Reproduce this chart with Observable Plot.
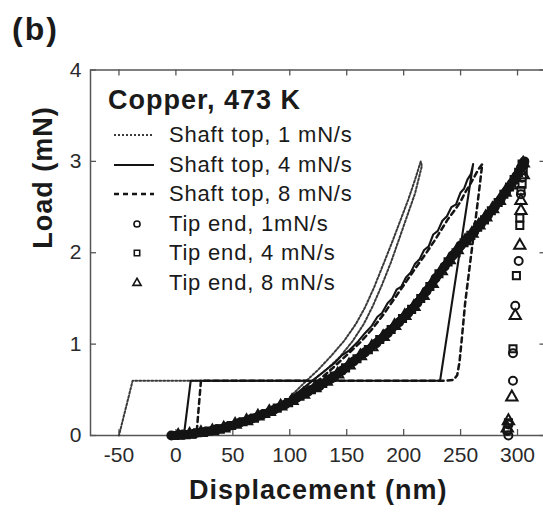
<!DOCTYPE html>
<html>
<head>
<meta charset="utf-8">
<script src="https://cdn.jsdelivr.net/npm/d3@7"></script>
<script src="https://cdn.jsdelivr.net/npm/@observablehq/plot@0.6"></script>
<style>
  html, body { margin: 0; padding: 0; background: #fff; overflow: hidden; }
  #wrap { position: relative; width: 543px; height: 512px; font-family: "Liberation Sans", Arial, Helvetica, sans-serif; color: #1a1a1a; }
  #tag { position: absolute; left: 12px; top: 12px; font-size: 32px; font-weight: bold; letter-spacing: 2px; line-height: 34px; }
  #chart { position: absolute; left: 0; top: 50px; }
  .lg { position: absolute; white-space: nowrap; line-height: 30px; height: 30px; }
  .lg-title { font-size: 27px; font-weight: bold; letter-spacing: 1px; }
  .lg-text { font-size: 22px; letter-spacing: 0.8px; }
  .lg svg { position: absolute; top: 0; }
</style>
</head>
<body>
<div id="wrap">
  <div id="tag">(b)</div>
  <div id="chart"></div>
</div>
<script>
// ---------- data ----------
const panelTag = "(b)";
const legendTitle = "Copper, 473 K";
const seriesLabels = ["Shaft top, 1 mN/s", "Shaft top, 4 mN/s", "Shaft top, 8 mN/s",
                      "Tip end, 1mN/s", "Tip end, 4 mN/s", "Tip end, 8 mN/s"];
const xTitle = "Displacement (nm)";
const yTitle = "Load (mN)";
const xTicks = [-50, 0, 50, 100, 150, 200, 250, 300];
const yTicks = [0, 1, 2, 3, 4];

// Shaft top, 1 mN/s (dotted)
const shaft1X = [100, 113, 125, 137, 148, 158, 166, 174, 183, 190, 197, 204, 210, 215,
                 216, 210, 203, 196, 189, 181, 173, 165, 155, 144, 132, 120, -38, -50];
const shaft1Y = [0.42, 0.58, 0.72, 0.88, 1.04, 1.22, 1.40, 1.62, 1.90, 2.12, 2.35, 2.58, 2.80, 3.00,
                 2.95, 2.65, 2.40, 2.15, 1.90, 1.65, 1.42, 1.22, 1.03, 0.86, 0.72, 0.60, 0.60, 0.00];
// Shaft top, 4 mN/s (solid)
const shaft4X = [100, 110, 120, 130, 140, 146, 152, 160, 166, 172, 177, 181, 186, 190, 194, 198, 202, 206, 210,
                 214, 218, 222, 226, 230, 234, 238, 242, 246, 250, 253, 256, 259, 261, 232, 13, 7];
const shaft4Y = [0.40, 0.50, 0.60, 0.70, 0.80, 0.88, 0.93, 1.03, 1.12, 1.20, 1.30, 1.34, 1.45, 1.50, 1.60, 1.63, 1.73, 1.78, 1.88,
                 1.93, 2.03, 2.07, 2.20, 2.24, 2.35, 2.40, 2.50, 2.53, 2.66, 2.70, 2.80, 2.86, 2.97, 0.60, 0.60, 0.00];
// Shaft top, 8 mN/s (dashed)
const shaft8X = [105, 115, 125, 137, 150, 162, 172, 182, 192, 202, 212, 220, 227, 233, 239, 245, 250, 254,
                 258, 262, 266, 269, 266, 262, 258, 254, 251, 249, 247, 244, 238, 22, 18];
const shaft8Y = [0.40, 0.50, 0.60, 0.73, 0.88, 1.02, 1.16, 1.32, 1.50, 1.68, 1.86, 2.00, 2.13, 2.25, 2.37, 2.47, 2.56, 2.66,
                 2.74, 2.83, 2.92, 2.97, 2.65, 2.25, 1.85, 1.45, 1.05, 0.80, 0.66, 0.61, 0.60, 0.60, 0.00];

// Tip end, 1 mN/s (circles): loading, then unloading
const tip1LoadX = [-4, 6, 16, 26, 36, 46, 56, 66, 76, 86, 96, 106, 116, 126, 136, 146, 156, 166, 176, 186, 196,
                   204, 212, 220, 228, 236, 243, 250, 256, 262, 268, 274, 280, 285, 290, 295, 299, 303, 306];
const tip1LoadY = [0.00, 0.01, 0.02, 0.04, 0.07, 0.10, 0.14, 0.18, 0.23, 0.28, 0.34, 0.41, 0.48, 0.54, 0.62, 0.71, 0.81, 0.91, 1.01, 1.12, 1.24,
                   1.34, 1.45, 1.58, 1.72, 1.85, 1.97, 2.08, 2.15, 2.23, 2.32, 2.41, 2.50, 2.58, 2.67, 2.76, 2.84, 2.93, 3.00];
const tip1UnloadX = [305, 304, 303, 301, 298, 296, 296, 292, 291, 292];
const tip1UnloadY = [2.95, 2.82, 2.64, 1.91, 1.42, 0.90, 0.60, 0.12, 0.05, 0.00];
// Tip end, 4 mN/s (squares)
const tip4LoadX = [-1, 9, 19, 29, 39, 49, 59, 69, 79, 89, 99, 109, 119, 129, 139, 149, 159, 169, 179, 189, 199,
                   207, 215, 223, 231, 239, 246, 253, 259, 265, 271, 277, 283, 288, 293, 297, 301, 304];
const tip4LoadY = [0.00, 0.01, 0.03, 0.05, 0.07, 0.11, 0.15, 0.19, 0.24, 0.30, 0.36, 0.43, 0.50, 0.57, 0.65, 0.74, 0.84, 0.94, 1.05, 1.16, 1.28,
                   1.38, 1.50, 1.63, 1.77, 1.90, 2.00, 2.11, 2.19, 2.28, 2.36, 2.46, 2.55, 2.64, 2.72, 2.80, 2.88, 2.97];
const tip4UnloadX = [305, 304, 303, 302, 302, 299, 296, 292, 291];
const tip4UnloadY = [2.90, 2.75, 2.68, 2.38, 2.30, 1.75, 0.95, 0.14, 0.06];
// Tip end, 8 mN/s (triangles)
const tip8LoadX = [2, 12, 22, 32, 42, 52, 62, 72, 82, 92, 102, 112, 122, 132, 142, 152, 162, 172, 182, 192, 201,
                   209, 217, 225, 233, 240, 247, 254, 260, 266, 272, 278, 284, 289, 294, 298, 302, 305];
const tip8LoadY = [0.00, 0.01, 0.03, 0.05, 0.08, 0.12, 0.16, 0.21, 0.26, 0.32, 0.38, 0.45, 0.52, 0.59, 0.67, 0.77, 0.87, 0.97, 1.08, 1.20, 1.31,
                   1.41, 1.53, 1.66, 1.80, 1.92, 2.03, 2.13, 2.21, 2.30, 2.39, 2.48, 2.57, 2.66, 2.74, 2.82, 2.90, 2.98];
const tip8UnloadX = [305, 303, 303, 302, 298, 295, 292, 291];
const tip8UnloadY = [2.85, 2.57, 2.46, 2.08, 1.31, 0.42, 0.16, 0.08];

// ---------- build ----------
const pts = (X, Y) => X.map((x, i) => ({x, y: Y[i]}));
const ink = "#141414";
const lineStyles = [
  {stroke: "#3a3a3a", strokeWidth: 2, strokeDasharray: "2,2"},
  {stroke: ink, strokeWidth: 2.1, strokeDasharray: null},
  {stroke: ink, strokeWidth: 2.5, strokeDasharray: "5,4"}
];
const symbols = ["circle", "square", "triangle"];
const tipLoad = [pts(tip1LoadX, tip1LoadY), pts(tip4LoadX, tip4LoadY), pts(tip8LoadX, tip8LoadY)];
const tipAll = [pts(tip1LoadX.concat(tip1UnloadX), tip1LoadY.concat(tip1UnloadY)),
                pts(tip4LoadX.concat(tip4UnloadX), tip4LoadY.concat(tip4UnloadY)),
                pts(tip8LoadX.concat(tip8UnloadX), tip8LoadY.concat(tip8UnloadY))];

const W = 543, H = 462, mT = 19.5, mB = 77, mL = 90, mR = -2.5, tickLen = 6;
const fmt = d => String(d);

const chart = Plot.plot({
  width: W,
  height: H,
  marginTop: mT,
  marginBottom: mB,
  marginLeft: mL,
  marginRight: mR,
  x: {domain: [-75, 325]},
  y: {domain: [0, 4]},
  style: {fontFamily: "'Liberation Sans', Arial, Helvetica, sans-serif", color: "#222", background: "#fff"},
  marks: [
    Plot.frame({stroke: "#555", strokeWidth: 1.5}),
    // inward ticks on all four sides
    Plot.tickX(xTicks, {x: d => d, insetTop: (H - mT - mB) - tickLen, stroke: "#555", strokeWidth: 1.3}),
    Plot.tickX(xTicks, {x: d => d, insetBottom: (H - mT - mB) - tickLen, stroke: "#555", strokeWidth: 1.3}),
    Plot.tickY(yTicks, {y: d => d, insetRight: (W - mL - mR) - tickLen, stroke: "#555", strokeWidth: 1.3}),
    Plot.tickY(yTicks, {y: d => d, insetLeft: (W - mL - mR) - tickLen, stroke: "#555", strokeWidth: 1.3}),
    Plot.axisX(xTicks, {anchor: "bottom", tickSize: 0, tickPadding: 12, tickFormat: fmt, label: null, fontSize: 21, fill: "#2a2a2a"}),
    Plot.axisY(yTicks, {anchor: "left", tickSize: 0, tickPadding: 9, tickFormat: fmt, label: null, fontSize: 21, fill: "#2a2a2a"}),
    Plot.line(pts(shaft1X, shaft1Y), {x: "x", y: "y", ...lineStyles[0]}),
    Plot.line(pts(shaft4X, shaft4Y), {x: "x", y: "y", ...lineStyles[1]}),
    Plot.line(pts(shaft8X, shaft8Y), {x: "x", y: "y", ...lineStyles[2]}),
    // overlapping tip-end markers form a solid band
    ...tipLoad.map(d => Plot.line(d, {x: "x", y: "y", stroke: ink, strokeWidth: 8})),
    ...tipAll.map((d, i) => Plot.dot(d, {x: "x", y: "y", symbol: symbols[i], r: i === 2 ? 4.2 : 4, stroke: ink, strokeWidth: 2, fill: "none"})),
    Plot.text([xTitle], {text: d => d, frameAnchor: "bottom", dy: 63, fontSize: 27, fontWeight: "bold", fill: "#1a1a1a"}),
    Plot.text([yTitle], {text: d => d, frameAnchor: "left", dx: -47, dy: -4, rotate: -90, fontSize: 27, fontWeight: "bold", fill: "#1a1a1a"})
  ]
});
d3.select(chart).selectAll("text")
  .filter(function() { return this.textContent === xTitle || this.textContent === yTitle; })
  .style("letter-spacing", "1px");
document.getElementById("chart").appendChild(chart);
document.getElementById("tag").textContent = panelTag;

// ---------- legend (inside plot area) ----------
const wrap = d3.select("#wrap");
wrap.append("div").attr("class", "lg lg-title")
  .style("left", "108px").style("top", "85px").text(legendTitle);
seriesLabels.forEach((label, i) => {
  const cy = 135 + i * 29.6;
  const row = wrap.append("div").attr("class", "lg lg-text")
    .style("left", "112px").style("top", (cy - 15) + "px").style("width", "330px");
  const svg = row.append("svg").attr("width", 46).attr("height", 30).style("left", "0px");
  if (i < 3) {
    const s = lineStyles[i];
    svg.append("line").attr("x1", 2).attr("x2", 42).attr("y1", 15).attr("y2", 15)
      .attr("stroke", s.stroke).attr("stroke-width", s.strokeWidth)
      .attr("stroke-dasharray", s.strokeDasharray);
  } else {
    const sym = d3.symbol().type([d3.symbolCircle, d3.symbolSquare, d3.symbolTriangle][i - 3]).size(Math.PI * 3.4 * 3.4 * 0.8);
    svg.append("path").attr("d", sym()).attr("transform", "translate(25,15)")
      .attr("fill", "none").attr("stroke", ink).attr("stroke-width", 1.6);
  }
  row.append("span").style("position", "absolute").style("left", "57px").text(label);
});
</script>
</body>
</html>
